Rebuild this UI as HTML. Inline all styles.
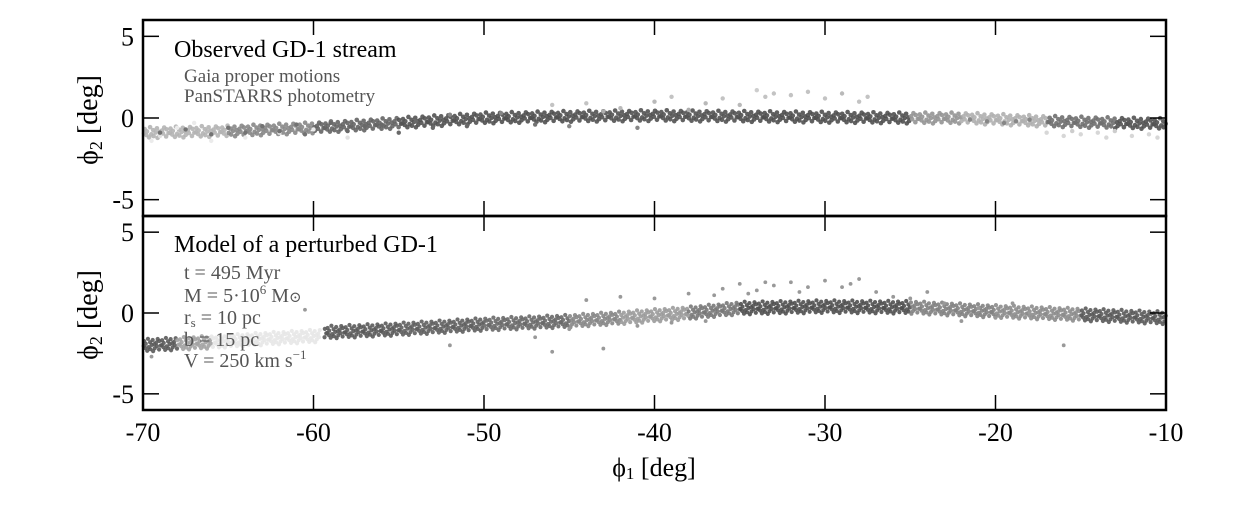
<!DOCTYPE html>
<html><head><meta charset="utf-8"><style>
body{margin:0;background:#fff}
svg text{font-family:"Liberation Serif","DejaVu Serif",serif}
</style></head><body>
<svg id="chart" width="1258" height="523" viewBox="0 0 1258 523" xmlns="http://www.w3.org/2000/svg">
<g id="marks"></g>
<g id="axes"></g>
<text x="174" y="57" font-size="24" fill="#000">Observed GD-1 stream</text>
<text x="184" y="82" font-size="19" fill="#555">Gaia proper motions</text>
<text x="184" y="102" font-size="19" fill="#555">PanSTARRS photometry</text>
<text x="174" y="252" font-size="24" fill="#000">Model of a perturbed GD-1</text>
<g font-size="20" fill="#555">
<text x="184" y="279">t = 495 Myr</text>
<text x="184" y="302">M = 5·10<tspan font-size="13" dy="-8">6</tspan><tspan dy="8"> M</tspan><tspan font-size="15">⊙</tspan></text>
<text x="184" y="324">r<tspan font-size="13" dy="3">s</tspan><tspan dy="-3"> = 10 pc</tspan></text>
<text x="184" y="346">b = 15 pc</text>
<text x="184" y="367">V = 250 km s<tspan font-size="13" dy="-8">−1</tspan></text>
</g>
<text x="654" y="476" font-size="26" text-anchor="middle">ϕ<tspan font-size="17" dy="3">1</tspan><tspan dy="-3"> [deg]</tspan></text>
<text transform="translate(97,120) rotate(-90)" font-size="28" text-anchor="middle">ϕ<tspan font-size="18" dy="5">2</tspan><tspan dy="-5"> [deg]</tspan></text>
<text transform="translate(97,315) rotate(-90)" font-size="28" text-anchor="middle">ϕ<tspan font-size="18" dy="5">2</tspan><tspan dy="-5"> [deg]</tspan></text>
</svg>
<script>
// ---- data ----
const xTicks = [-70, -60, -50, -40, -30, -20, -10];
const yTicks = [-5, 0, 5];
// observed stream track
const obsTrackPhi1 = [-70, -65, -60, -55, -50, -45, -40, -35, -30, -25, -22, -17, -13, -10];
const obsTrackPhi2 = [-0.9, -0.8, -0.6, -0.3, 0.0, 0.1, 0.15, 0.1, 0.05, 0.0, 0.0, -0.2, -0.3, -0.35];
const obsTrackShade = [0.25, 0.5, 0.7, 0.85, 0.88, 0.88, 0.85, 0.88, 0.88, 0.88, 0.2, 0.6, 0.85, 0.88];
const obsPtsPhi1 = [-69.5,-69,-68,-67,-66,-64,-62,-60,-58,-69,-67.5,-66,-65,-64,-63,-62,-61,-60.5,-59,-58,-57,-56,-55,-54,-53,-52,-51,-49,-47,-46,-44,-42,-40,-39,-37,-36,-35,-34,-33,-33.5,-32,-31,-30,-29,-28,-27.5,-17,-16,-15.5,-15,-14,-13.5,-13,-12,-11,-10.5,-21.5,-20.5,-19.5,-18.8,-18,-45,-43,-41,-38];
const obsPtsPhi2 = [-1.4,-1.1,-0.6,-0.3,-1.4,-1.2,-0.9,-0.7,-1.2,-0.9,-0.7,-1.0,-0.6,-0.9,-0.5,-0.8,-0.4,-1.0,-0.3,-0.8,-0.5,-0.4,-0.9,-0.2,-0.6,0.2,-0.5,0.3,-0.4,0.8,0.9,0.6,1.0,1.3,0.9,1.2,0.8,1.7,1.5,1.3,1.4,1.6,1.2,1.5,1.0,1.3,-0.9,-1.1,-0.8,-1.0,-0.9,-1.2,-0.8,-1.1,-1.0,-1.2,-0.1,-0.2,-0.3,-0.2,-0.1,-0.5,0.4,-0.6,0.5];
const obsPtsShade = [0.1,0.15,0.1,0.1,0.1,0.1,0.15,0.1,0.15,0.7,0.7,0.7,0.7,0.7,0.7,0.7,0.7,0.7,0.75,0.75,0.75,0.75,0.75,0.75,0.75,0.6,0.75,0.6,0.7,0.3,0.3,0.35,0.35,0.3,0.35,0.3,0.35,0.25,0.3,0.3,0.3,0.3,0.3,0.35,0.3,0.3,0.2,0.2,0.25,0.2,0.2,0.2,0.25,0.2,0.2,0.2,0.6,0.6,0.6,0.6,0.6,0.6,0.4,0.6,0.4];
// model stream track
const modTrackPhi1 = [-70, -68, -66, -63, -59.6, -59.4, -55, -50, -45, -42, -38, -35, -30, -25, -20, -15, -10];
const modTrackPhi2 = [-2.0, -1.9, -1.8, -1.6, -1.4, -1.2, -1.0, -0.7, -0.5, -0.3, 0.0, 0.3, 0.4, 0.35, 0.1, -0.1, -0.3];
const modTrackShade = [0.85, 0.8, 0.12, 0.12, 0.12, 0.85, 0.8, 0.8, 0.7, 0.5, 0.5, 0.85, 0.9, 0.85, 0.4, 0.75, 0.9];
const modPtsPhi1 = [-44,-42,-40,-38,-36,-35,-34,-33,-32,-31,-30,-29,-28,-27,-26,-25,-24,-52,-46,-43,-16,-47,-45,-41,-39,-37,-22,-20,-18,-19,-21,-23,-36.5,-34.5,-33.5,-31.5,-28.5,-60.5,-69.5];
const modPtsPhi2 = [0.8,1.0,0.9,1.2,1.5,1.8,1.4,1.7,1.9,1.6,2.0,1.6,2.1,1.3,1.0,0.9,1.3,-2.0,-2.4,-2.2,-2.0,-1.5,-1.0,-0.8,-0.6,-0.5,-0.5,-0.3,0.0,0.6,0.3,0.6,1.1,1.2,1.9,1.3,1.8,0.2,-2.7];
// ---- scales ----
const X0 = 143, X1 = 1166, PHI1MIN = -70, PHI1MAX = -10;
const panels = [{top: 20, bottom: 216}, {top: 216, bottom: 410}];
function xs(v){ return X0 + (v - PHI1MIN) / (PHI1MAX - PHI1MIN) * (X1 - X0); }
function ys(p, v){ const P = panels[p]; return (P.top + P.bottom) / 2 - v / 12 * (P.bottom - P.top); }
function gray(s){ const c = Math.round(255 - s * 200); return `rgb(${c},${c},${c})`; }
const NS = 'http://www.w3.org/2000/svg';
const marks = document.getElementById('marks');
const axes = document.getElementById('axes');
function mk(tag, attrs, parent){ const e = document.createElementNS(NS, tag); for (const k in attrs) e.setAttribute(k, attrs[k]); parent.appendChild(e); return e; }

// fixed texture pattern (styling, pixel offsets across the band)
const TEX_DY = [0.1,-0.6,0.4,-0.2,0.8,-0.9,0.3,-0.4,0.6,0.0,-0.7,0.9,-0.1,0.5,-0.3,0.2,-0.8,0.7,-0.5,0.15];
const TEX_DX = [0.3,-0.2,0.1,-0.4,0.2,0.0,-0.1,0.4,-0.3,0.25];
function drawTrack(p, a1, a2, sh, halfW, step, r, name){
  let k = 0;
  for (let i = 0; i < a1.length - 1; i++){
    if (Math.abs(a1[i+1] - a1[i]) < 0.5) continue;
    const xA = xs(a1[i]), xB = xs(a1[i+1]), yA = ys(p, a2[i]), yB = ys(p, a2[i+1]);
    const col = gray((sh[i] + sh[i+1]) / 2);
    const n = Math.max(1, Math.round((xB - xA) / step));
    for (let j = 0; j < n; j++){
      const t = (j + 0.5) / n;
      const c = mk('circle', {cx: xA + (xB - xA) * t + TEX_DX[k % TEX_DX.length] * step, cy: yA + (yB - yA) * t + TEX_DY[k % TEX_DY.length] * halfW, r: r, fill: col, opacity: 0.9}, marks);
      
      
      k++;
    }
  }
}
drawTrack(0, obsTrackPhi1, obsTrackPhi2, obsTrackShade, 6, 1.3, 2.3, 'observed-stream-star');
drawTrack(1, modTrackPhi1, modTrackPhi2, modTrackShade, 7, 0.9, 2.1, 'model-stream-particle');
for (let i = 0; i < obsPtsPhi1.length; i++){
  const c = mk('circle', {cx: xs(obsPtsPhi1[i]), cy: ys(0, obsPtsPhi2[i]), r: 2.2, fill: gray(obsPtsShade[i])}, marks);
  
  
}
for (let i = 0; i < modPtsPhi1.length; i++){
  const c = mk('circle', {cx: xs(modPtsPhi1[i]), cy: ys(1, modPtsPhi2[i]), r: 1.9, fill: '#999'}, marks);
  
  
}
// axes
panels.forEach((P, p) => {
  const r = mk('rect', {x: X0, y: P.top, width: X1 - X0, height: P.bottom - P.top, fill: 'none', stroke: '#000', 'stroke-width': 2.5}, axes);
  
  
  yTicks.forEach(t => {
    const y = ys(p, t);
    mk('line', {x1: X0, y1: y, x2: X0 + 16, y2: y, stroke: '#000', 'stroke-width': 1.5}, axes);
    mk('line', {x1: X1, y1: y, x2: X1 - 16, y2: y, stroke: '#000', 'stroke-width': 1.5}, axes);
    const tx = mk('text', {x: 134, y: y + 9, 'font-size': 26, 'text-anchor': 'end'}, axes);
    tx.textContent = String(t);
    
    
  });
  xTicks.forEach(t => {
    const x = xs(t);
    mk('line', {x1: x, y1: P.top, x2: x, y2: P.top + 15, stroke: '#000', 'stroke-width': 1.5}, axes);
    mk('line', {x1: x, y1: P.bottom, x2: x, y2: P.bottom - 15, stroke: '#000', 'stroke-width': 1.5}, axes);
  });
});
xTicks.forEach(t => {
  const tx = mk('text', {x: xs(t), y: 441, 'font-size': 26, 'text-anchor': 'middle'}, axes);
  tx.textContent = String(t);
  
  
});
</script>
</body></html>
